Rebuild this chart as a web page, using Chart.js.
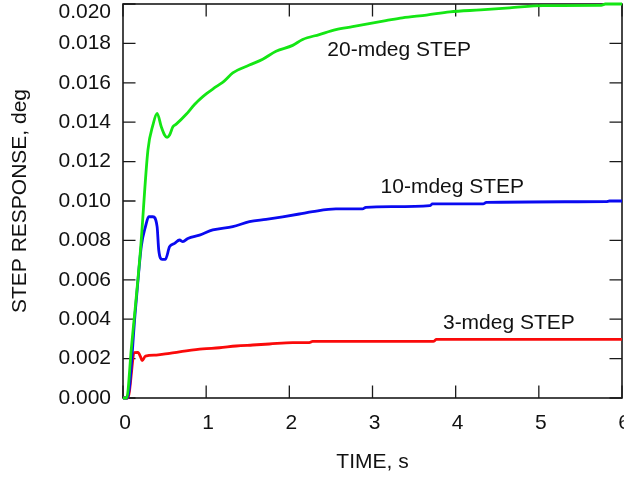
<!DOCTYPE html>
<html>
<head>
<meta charset="utf-8">
<script src="https://cdn.jsdelivr.net/npm/chart.js@4/dist/chart.umd.min.js"></script>
<style>
  html, body { margin: 0; padding: 0; background: #fff; overflow: hidden; }
</style>
</head>
<body>
<canvas id="grafico" width="624" height="479"></canvas>
<script>
// step responses (time in s, response in deg)
const t20 = [0, 0.044, 0.10, 0.21, 0.30, 0.36, 0.41, 0.46, 0.50, 0.53, 0.56, 0.60, 0.64, 0.76, 0.86, 0.96, 1.12, 1.22, 1.32, 1.52, 1.68, 1.84, 2.04, 2.16, 2.36, 2.56, 2.76, 2.96, 3.16, 3.36, 3.65, 3.93, 4.30, 4.65, 5.05, 5.75, 5.80, 6.00]
const v20 = [0, 0, 0.0025, 0.0075, 0.0126, 0.01386, 0.01445, 0.01377, 0.01335, 0.01323, 0.01335, 0.01377, 0.0139, 0.0144, 0.0149, 0.0153, 0.0158, 0.0161, 0.0165, 0.0169, 0.0172, 0.0176, 0.0179, 0.0182, 0.01845, 0.0187, 0.01885, 0.0190, 0.01915, 0.0193, 0.01944, 0.0196, 0.0197, 0.0198, 0.01992, 0.01993, 0.0200, 0.0200]

const t10 = [0, 0.052, 0.15, 0.22, 0.27, 0.31, 0.36, 0.41, 0.43, 0.47, 0.51, 0.56, 0.62, 0.68, 0.72, 0.78, 0.92, 1.08, 1.32, 1.52, 1.72, 1.92, 2.12, 2.28, 2.56, 2.88, 2.92, 3.24, 3.69, 3.72, 4.33, 4.37, 5.81, 5.85, 6.00]
const v10 = [0, 0, 0.0045, 0.0077, 0.0087, 0.0092, 0.0092, 0.0087, 0.0075, 0.00704, 0.00704, 0.00768, 0.00785, 0.00802, 0.00794, 0.0081, 0.00827, 0.00853, 0.0087, 0.00895, 0.00907, 0.0092, 0.00934, 0.00946, 0.0096, 0.0096, 0.00968, 0.00971, 0.00976, 0.00985, 0.00985, 0.00993, 0.00997, 0.0100, 0.0100]

const t3 = [0, 0.058, 0.138, 0.18, 0.21, 0.23, 0.27, 0.40, 0.56, 0.76, 0.96, 1.16, 1.36, 1.56, 1.76, 2.04, 2.24, 2.28, 3.73, 3.77, 6.00]
const v3 = [0, 0, 0.0023, 0.00232, 0.0021, 0.0019, 0.00213, 0.00218, 0.00227, 0.00239, 0.00249, 0.00255, 0.00264, 0.00269, 0.00274, 0.00281, 0.00281, 0.00287, 0.00287, 0.00298, 0.00298]

const curveNames = ['20-mdeg STEP', '10-mdeg STEP', '3-mdeg STEP']
const nameTimes = [3.32, 3.96, 4.64]
const nameValues = [0.01766, 0.01071, 0.00382]

const xTicks = [0, 1, 2, 3, 4, 5, 6]
const yTicks = [0, 0.002, 0.004, 0.006, 0.008, 0.010, 0.012, 0.014, 0.016, 0.018, 0.020]

const fonte = '"Liberation Sans", Arial, Helvetica, sans-serif'
const tamanho = 21

const pares = (ts, vs) => ts.map((t, i) => ({x: t, y: vs[i]}))

const moldura = {
    id: 'moldura',
    beforeDatasetsDraw(chart) {
        const {ctx, chartArea: {left, right, top, bottom}, scales: {x, y}} = chart
        const tam = 12.5
        ctx.save()
        ctx.strokeStyle = '#1a1a1a'
        ctx.lineWidth = 1.3
        ctx.beginPath()
        xTicks.forEach(v => {
            const px = x.getPixelForValue(v)
            ctx.moveTo(px, bottom); ctx.lineTo(px, bottom - tam)
            ctx.moveTo(px, top); ctx.lineTo(px, top + tam)
        })
        yTicks.forEach(v => {
            const py = y.getPixelForValue(v)
            ctx.moveTo(left, py); ctx.lineTo(left + tam, py)
            ctx.moveTo(right, py); ctx.lineTo(right - tam, py)
        })
        ctx.stroke()
        ctx.lineWidth = 1.6
        ctx.strokeRect(left, top, right - left, bottom - top)
        ctx.restore()
    },
    afterDatasetsDraw(chart) {
        const {ctx, scales: {x, y}} = chart
        ctx.save()
        ctx.font = `${tamanho}px ${fonte}`
        ctx.fillStyle = '#111'
        ctx.textAlign = 'center'
        ctx.textBaseline = 'middle'
        curveNames.forEach((n, i) => {
            ctx.fillText(n, x.getPixelForValue(nameTimes[i]), y.getPixelForValue(nameValues[i]))
        })
        ctx.restore()
    }
}

new Chart(document.getElementById('grafico'), {
    type: 'line',
    data: {
        datasets: [
            {data: pares(t20, v20), borderColor: 'rgb(20,230,20)'},
            {data: pares(t10, v10), borderColor: 'rgb(10,10,240)'},
            {data: pares(t3, v3), borderColor: 'rgb(250,10,10)'}
        ].map(d => Object.assign(d, {borderWidth: 2.8, pointRadius: 0, fill: false, cubicInterpolationMode: 'monotone', clip: 4}))
    },
    options: {
        responsive: false,
        animation: false,
        layout: {padding: {top: 4, right: 2, left: 0, bottom: 0}},
        plugins: {legend: {display: false}, tooltip: {enabled: false}},
        scales: {
            x: {
                type: 'linear', min: 0, max: 6,
                afterBuildTicks: s => { s.ticks = xTicks.map(v => ({value: v})) },
                ticks: {color: '#111', font: {family: fonte, size: tamanho}, padding: 5, labelOffset: 2, maxRotation: 0,
                    callback: v => String(v)},
                grid: {display: false},
                border: {display: false},
                title: {display: true, text: 'TIME, s', color: '#111', font: {family: fonte, size: tamanho}, padding: {top: 0, bottom: 4}},
                afterFit: s => { s.height = 81; s.paddingLeft = 0; s.paddingRight = 0 }
            },
            y: {
                type: 'linear', min: 0, max: 0.02,
                afterBuildTicks: s => { s.ticks = yTicks.map(v => ({value: v})) },
                ticks: {color: '#111', font: {family: fonte, size: tamanho, lineHeight: 0.8}, padding: 4,
                    callback: (v, i, arr) => i === arr.length - 1 ? ['', v.toFixed(3)] : v.toFixed(3)},
                grid: {display: false},
                border: {display: false},
                title: {display: true, text: 'STEP RESPONSE, deg', color: '#111', font: {family: fonte, size: tamanho}, padding: {top: 8, bottom: 0}},
                afterFit: s => { s.width = 123; s.paddingTop = 0; s.paddingBottom = 0 }
            }
        }
    },
    plugins: [moldura]
})
</script>
</body>
</html>
